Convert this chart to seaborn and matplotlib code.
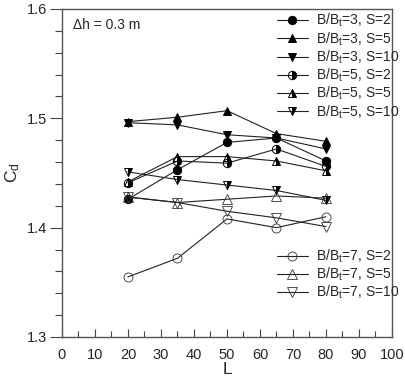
import matplotlib
matplotlib.use("Agg")
import matplotlib.pyplot as plt
import seaborn as sns
from matplotlib.ticker import MultipleLocator

# data
L = [20, 35, 50, 65, 80]
b3_s2 = [1.426, 1.453, 1.478, 1.482, 1.461]
b3_s5 = [1.497, 1.501, 1.507, 1.486, 1.479]
b3_s10 = [1.496, 1.494, 1.485, 1.482, 1.472]
b5_s2 = [1.441, 1.461, 1.459, 1.472, 1.456]
b5_s5 = [1.442, 1.465, 1.465, 1.461, 1.452]
b5_s10 = [1.451, 1.444, 1.439, 1.434, 1.425]
b7_s2 = [1.355, 1.372, 1.408, 1.400, 1.410]
b7_s5 = [1.428, 1.423, 1.426, 1.429, 1.427]
b7_s10 = [1.428, 1.423, 1.415, 1.409, 1.401]

labels_top = ["B/B$_t$=3, S=2", "B/B$_t$=3, S=5", "B/B$_t$=3, S=10",
              "B/B$_t$=5, S=2", "B/B$_t$=5, S=5", "B/B$_t$=5, S=10"]
labels_bot = ["B/B$_t$=7, S=2", "B/B$_t$=7, S=5", "B/B$_t$=7, S=10"]

sns.set_style("ticks")
plt.rcParams["font.family"] = ["Liberation Sans", "DejaVu Sans"]
plt.rcParams["mathtext.fontset"] = "custom"
plt.rcParams["mathtext.rm"] = "Liberation Sans"
plt.rcParams["mathtext.it"] = "Liberation Sans"

fig = plt.figure(figsize=(4.06, 3.90), dpi=100)
ax = fig.add_axes([62 / 406, 1 - 337 / 390, 330 / 406, 328 / 390])

# (values, marker, fillstyle, facecolor)
series_top = [
    (b3_s2, "o", "full", "black"),
    (b3_s5, "^", "full", "black"),
    (b3_s10, "v", "full", "black"),
    (b5_s2, "o", "right", "black"),
    (b5_s5, "^", "right", "black"),
    (b5_s10, "v", "right", "black"),
]
series_bot = [b7_s2, b7_s5, b7_s10]
markers_bot = ["o", "^", "v"]

handles_top = []
for (vals, m, fs, fc), lab in zip(series_top, labels_top):
    sns.lineplot(x=L, y=vals, ax=ax, color="#222222", lw=0.8, marker=m,
                 markersize=6, markeredgecolor="black", markeredgewidth=0.7,
                 markerfacecolor=fc, fillstyle=fs, label=lab, legend=False)
    handles_top.append(ax.lines[-1])

handles_bot = []
for vals, m, lab in zip(series_bot, markers_bot, labels_bot):
    sns.lineplot(x=L, y=vals, ax=ax, color="#222222", lw=0.8, marker=m,
                 markersize=6.5, markeredgecolor="#333333", markeredgewidth=0.6,
                 markerfacecolor="none", fillstyle="none", label=lab, legend=False)
    handles_bot.append(ax.lines[-1])

leg1 = ax.legend(handles_top, labels_top, loc="upper left",
                 bbox_to_anchor=(277 / 406, 1 - 12 / 390), bbox_transform=fig.transFigure,
                 frameon=False, fontsize=10, borderpad=0, borderaxespad=0,
                 handlelength=2.2, handletextpad=0.6, labelspacing=0.06)
ax.add_artist(leg1)
ax.legend(handles_bot, labels_bot, loc="upper left",
          bbox_to_anchor=(277 / 406, 1 - 248 / 390), bbox_transform=fig.transFigure,
          frameon=False, fontsize=10, borderpad=0, borderaxespad=0,
          handlelength=2.2, handletextpad=0.6, labelspacing=0.04)

ax.text(0.033, 0.951, "\u0394h = 0.3 m", transform=ax.transAxes, fontsize=10,
        va="center", ha="left")

ax.set_xlim(0, 100)
ax.set_ylim(1.3, 1.6)
ax.xaxis.set_major_locator(MultipleLocator(10))
ax.xaxis.set_minor_locator(MultipleLocator(5))
ax.yaxis.set_major_locator(MultipleLocator(0.1))
ax.yaxis.set_minor_locator(MultipleLocator(0.02))
ax.tick_params(axis="x", which="major", direction="in", length=6, width=0.8,
               labelsize=10.5, pad=8, color="#444444")
ax.tick_params(axis="x", which="minor", direction="in", length=4, width=0.8,
               color="#444444")
ax.tick_params(axis="y", which="major", direction="out", length=9, width=0.8,
               labelsize=10.5, pad=2, color="#444444")
ax.tick_params(axis="y", which="minor", direction="out", length=5, width=0.8,
               color="#444444")
ax.yaxis.set_major_formatter(matplotlib.ticker.FormatStrFormatter("%.1f"))

for s in ax.spines.values():
    s.set_visible(True)
    s.set_color("#555555")
    s.set_linewidth(1.0)

ax.set_xlabel("L", fontsize=12.5, labelpad=0)
ax.set_ylabel("C$_d$", fontsize=12.5)
ax.yaxis.set_label_coords(-0.12, 0.5)

fig.savefig("out.png", dpi=100)
